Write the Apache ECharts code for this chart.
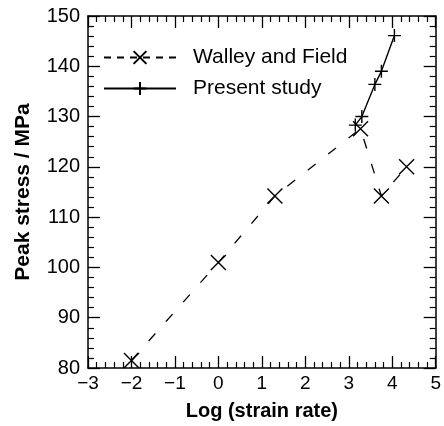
<!DOCTYPE html>
<html>
<head>
<meta charset="utf-8">
<script src="https://cdn.jsdelivr.net/npm/echarts@6/dist/echarts.min.js"></script>
<style>
  html, body { margin: 0; padding: 0; background: #fff; }
  #chart { width: 444px; height: 426px; }
</style>
</head>
<body>
<div id="chart"></div>
<script>
// Peak stress against log strain rate
const walleyLogRate = [-2.0, 0.0, 1.3, 3.27, 3.75, 4.33];
const walleyStress  = [81.5, 101.0, 114.2, 127.6, 114.2, 120.0];
const presentLogRate = [3.15, 3.3, 3.6, 3.75, 4.05];
const presentStress  = [128.3, 130.0, 136.4, 139.0, 146.1];
const seriesNames = ['Walley and Field', 'Present study'];
const xTicks = [-3, -2, -1, 0, 1, 2, 3, 4, 5];
const yTicks = [80, 90, 100, 110, 120, 130, 140, 150];

const FONT = '"Liberation Sans", Arial, Helvetica, sans-serif';
const crossPath = 'path://M0,0L10,10M10,0L0,10';
const plusPath = 'path://M5,0L5,10M0,5L10,5';

function pairs(xs, ys) { return xs.map((x, i) => [x, ys[i]]); }

const tickCommon = {
  axisLine: { show: true, onZero: false, lineStyle: { color: '#000', width: 1.5 } },
  axisTick: { show: true, inside: true, length: 12, lineStyle: { color: '#000', width: 1.3 } },
  minorTick: { show: true, splitNumber: 5, length: 6, lineStyle: { color: '#000', width: 1.2 } },
  splitLine: { show: false }
};

function xAxis(pos, labels) {
  return Object.assign({
    type: 'value', position: pos,
    min: xTicks[0], max: xTicks[xTicks.length - 1], interval: 1,
    axisLabel: {
      show: labels, color: '#000', fontFamily: FONT, fontSize: 19, margin: 6,
      formatter: v => String(v).replace('-', '\u2212')
    },
    name: labels ? 'Log (strain rate)' : '',
    nameLocation: 'middle', nameGap: 33,
    nameTextStyle: { color: '#000', fontFamily: FONT, fontSize: 20, fontWeight: 'bold' }
  }, tickCommon);
}

function yAxis(pos, labels) {
  return Object.assign({
    type: 'value', position: pos,
    min: yTicks[0], max: yTicks[yTicks.length - 1], interval: 10,
    axisLabel: { show: labels, color: '#000', fontFamily: FONT, fontSize: 20, margin: 8 },
    name: labels ? 'Peak stress / MPa' : '',
    nameLocation: 'middle', nameGap: 54, nameRotate: 90,
    nameTextStyle: { color: '#000', fontFamily: FONT, fontSize: 21, fontWeight: 'bold' }
  }, tickCommon);
}

const chart = echarts.init(document.getElementById('chart'), null, { renderer: 'canvas' });
chart.setOption({
  animation: false,
  backgroundColor: '#fff',
  grid: { left: 88, right: 8, top: 16, bottom: 57, containLabel: false },
  legend: {
    orient: 'vertical', left: 98, top: 42,
    itemWidth: 72, itemHeight: 16, itemGap: 10,
    data: [
      { name: seriesNames[0], lineStyle: { type: [7, 6] } },
      { name: seriesNames[1] }
    ],
    textStyle: { color: '#000', fontFamily: FONT, fontSize: 21, padding: [0, 0, 0, 12] }
  },
  xAxis: [xAxis('bottom', true), xAxis('top', false)],
  yAxis: [yAxis('left', true), yAxis('right', false)],
  series: [
    {
      name: seriesNames[0], type: 'line', xAxisIndex: 0, yAxisIndex: 0,
      data: pairs(walleyLogRate, walleyStress),
      symbol: crossPath, symbolSize: 15, showAllSymbol: true,
      lineStyle: { color: '#000', width: 1.3, type: [10, 16] },
      itemStyle: { color: '#000', borderColor: '#000', borderWidth: 1.4 }
    },
    {
      name: seriesNames[1], type: 'line', xAxisIndex: 0, yAxisIndex: 0,
      data: pairs(presentLogRate, presentStress),
      symbol: plusPath, symbolSize: 13, showAllSymbol: true,
      lineStyle: { color: '#000', width: 1.4, type: 'solid' },
      itemStyle: { color: '#000', borderColor: '#000', borderWidth: 1.4 }
    }
  ]
});
</script>
</body>
</html>
